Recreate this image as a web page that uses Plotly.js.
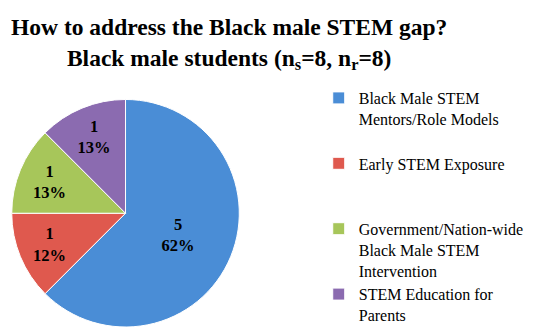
<!DOCTYPE html>
<html>
<head>
<meta charset="utf-8">
<script src="https://cdn.plot.ly/plotly-3.0.1.min.js"></script>
<style>html,body{margin:0;padding:0;background:#fff;}#chart{width:533px;height:332px;}</style>
</head>
<body>
<div id="chart"></div>
<script>
// Data
const categories = [
  'Black Male STEM<br>Mentors/Role Models',
  'Early STEM Exposure',
  'Government/Nation-wide<br>Black Male STEM<br>Intervention',
  'STEM Education for<br>Parents'
];
const counts = [5, 1, 1, 1];
const percentLabels = ['62%', '12%', '13%', '13%'];
const sliceColors = ['#4A8DD6', '#DF594E', '#A7C65A', '#8B6BB0'];

// extra blank lines after each legend entry to mimic the original spacing
const legendPad = [1, 2, 0, 0];
const legendLabels = categories.map((c, i) => c + '<br> '.repeat(legendPad[i]));
const sliceText = counts.map((v, i) => '<b>' + v + '<br>' + percentLabels[i] + '</b>');

const SERIF = 'Liberation Serif, Times New Roman, serif';

const trace = {
  type: 'pie',
  labels: legendLabels,
  values: counts,
  text: sliceText,
  textinfo: 'text',
  textposition: 'inside',
  insidetextorientation: 'horizontal',
  sort: false,
  direction: 'clockwise',
  rotation: 0,
  marker: {colors: sliceColors, line: {color: '#ffffff', width: 1}},
  insidetextfont: {family: SERIF, size: 16.5, color: '#000000'},
  domain: {x: [0.0188, 0.4522], y: [0, 0.6958]},
  hoverinfo: 'label+value+percent'
};

const layout = {
  width: 533, height: 332,
  margin: {l: 0, r: 0, t: 0, b: 0},
  paper_bgcolor: '#fff',
  font: {family: SERIF, color: '#000'},
  title: {
    text: '<b>How to address the Black male STEM gap?<br>Black male students (n<sub>s</sub>=8, n<sub>r</sub>=8)</b>',
    font: {family: SERIF, size: 23.5, color: '#000'},
    x: 0.43, xanchor: 'center', xref: 'paper',
    yref: 'container', y: 1 - 35 / 332, yanchor: 'middle',
    automargin: false
  },
  showlegend: true,
  legend: {
    x: 0.598, xanchor: 'left', y: 0.752, yanchor: 'top',
    valign: 'top',
    font: {family: SERIF, size: 16, color: '#000'},
    itemwidth: 30,
    bgcolor: 'rgba(0,0,0,0)'
  }
};

Plotly.newPlot('chart', [trace], layout, {displayModeBar: false, staticPlot: true});
</script>
</body>
</html>
